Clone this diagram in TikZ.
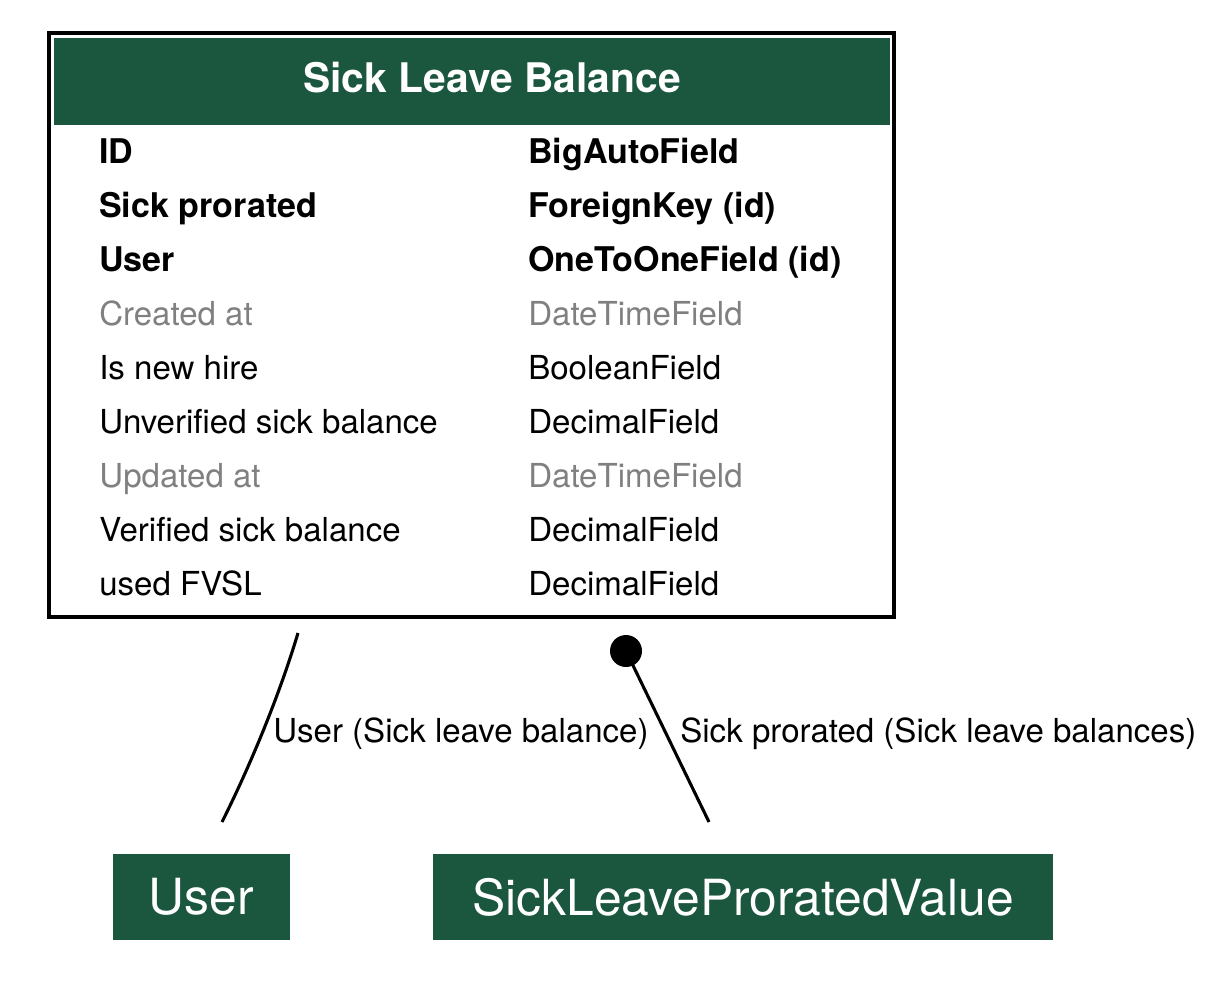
\documentclass[tikz,border=0pt]{standalone}
\usepackage{fontspec}
\setmainfont{TeX Gyre Heros}
\usetikzlibrary{positioning,calc}
\definecolor{modelgreen}{RGB}{27,86,63}
\definecolor{autogray}{RGB}{128,128,128}

\tikzset{
    modelbox/.style={fill=modelgreen, text=white, inner sep=0pt, font=\fontsize{35.4pt}{40pt}\selectfont},
    fieldtext/.style={anchor=base west, inner sep=0pt, font=\fontsize{23.5pt}{28pt}\selectfont},
    keyfield/.style={fieldtext, font=\fontsize{24.2pt}{28pt}\selectfont\bfseries},
    plainfield/.style={fieldtext},
    autofield/.style={fieldtext, text=autogray},
    relation/.style={line width=2.2pt},
    edgelabel/.style={anchor=base west, inner sep=0pt, font=\fontsize{23.5pt}{28pt}\selectfont}
}

\begin{document}
\begin{tikzpicture}[x=0.025cm, y=-0.025cm]
    \useasboundingbox (0,0) rectangle (1215,989);

    % Table frame and header
    \node[draw, line width=2.3pt, minimum width=845*0.025cm, minimum height=584*0.025cm, inner sep=0pt] (balance) at (471.5,325) {};
    \node[fill=modelgreen, minimum width=836*0.025cm, minimum height=87*0.025cm, inner sep=0pt] (header) at (472,81.5) {};
    \node[text=white, inner sep=0pt, font=\fontsize{29pt}{34pt}\selectfont\bfseries] (title) at (492,78) {Sick Leave Balance};

    % Fields
    \foreach \fname/\ftype/\fstyle [count=\i] in {
        ID/BigAutoField/keyfield,
        Sick prorated/ForeignKey (id)/keyfield,
        User/OneToOneField (id)/keyfield,
        Created at/DateTimeField/autofield,
        Is new hire/BooleanField/plainfield,
        Unverified sick balance/DecimalField/plainfield,
        Updated at/DateTimeField/autofield,
        Verified sick balance/DecimalField/plainfield,
        used FVSL/DecimalField/plainfield} {
        \node[\fstyle] (fname\i) at (99, 109+54*\i) {\fname};
        \node[\fstyle] (ftype\i) at (528, 109+54*\i) {\ftype};
    }

    % Related models
    \node[modelbox, minimum width=177*0.025cm, minimum height=86*0.025cm] (user) at (201.5,897) {User};
    \node[modelbox, minimum width=620*0.025cm, minimum height=86*0.025cm] (prorated) at (743,897) {SickLeaveProratedValue};

    % Relations
    \coordinate (user tail) at (298,633);
    \coordinate (user head) at (222,822);
    \coordinate (prorated tail) at (626,651);
    \coordinate (prorated head) at (709,822);

    \draw[relation] (user tail) .. controls (280,693) and (252,762) .. (user head);
    \draw[relation] (prorated tail) -- (prorated head);
    \fill (prorated tail) circle (16);

    \node[edgelabel] (user label) at (273,742) {User (Sick leave balance)};
    \node[edgelabel] (prorated label) at (680,742) {Sick prorated (Sick leave balances)};
\end{tikzpicture}
\end{document}
